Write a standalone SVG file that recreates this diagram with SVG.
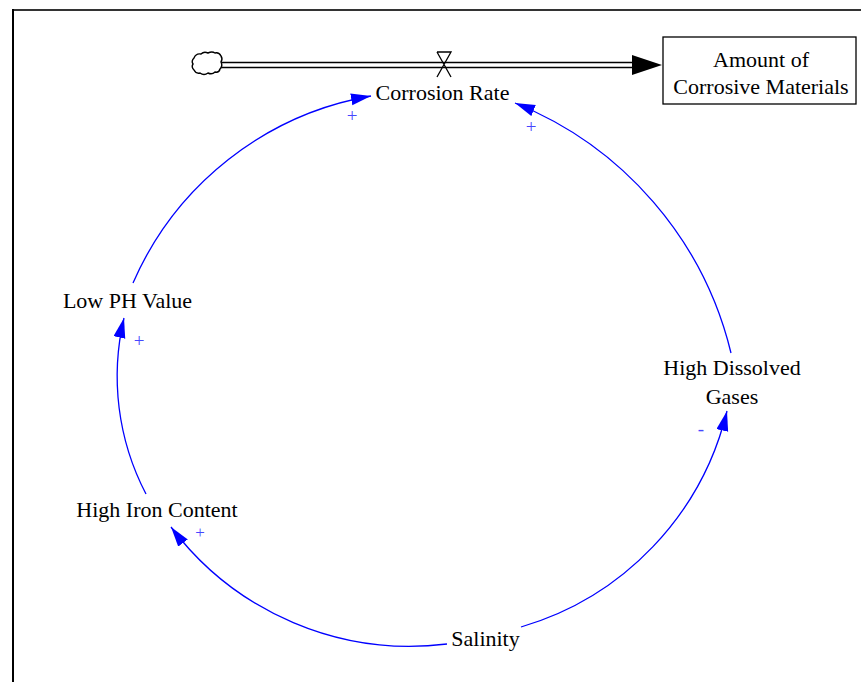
<svg xmlns="http://www.w3.org/2000/svg" width="861" height="682" viewBox="0 0 861 682">
<defs>
<style>
.t{font-family:"Liberation Serif","Times New Roman",serif;font-size:22px;text-anchor:middle;fill:#000}
.link{fill:none;stroke:#0000ff;stroke-width:1.3;marker-end:url(#ah)}
.pol{font-family:"Liberation Serif","Times New Roman",serif;font-size:19px;text-anchor:middle;fill:#4646ff}
</style>
<marker id="ah" markerUnits="userSpaceOnUse" markerWidth="22" markerHeight="14" refX="20" refY="6" orient="auto">
<path d="M0,0 L20,6 L0,12 z" fill="#0000ff"/>
</marker>
</defs>
<rect width="861" height="682" fill="#fff"/>
<g id="frame">
<line x1="13" y1="10" x2="861" y2="10" stroke="#333" stroke-width="2"/>
<line x1="13" y1="9" x2="13" y2="682" stroke="#000" stroke-width="2"/>
</g>
<g id="flow">
<path d="M220,65 L634,65" stroke="#000" stroke-width="6.5" fill="none"/>
<path d="M220,65 L634,65" stroke="#fff" stroke-width="3.5" fill="none"/>
<path d="M632,55 L662,65 L632,75 z" fill="#000"/>
<path d="M437,52 L451,52 L437,77 M451,52 L437,77 M437,52 L451,77" stroke="#000" stroke-width="1.3" fill="none"/>
</g>
<g id="cloud">
<path d="M194,58 q2,-5 7,-4 q3,-3 7,-1 q4,-2 7,0 q4,-1 6,3 q2,3 0,6 q2,4 -1,7 q-1,4 -5,3 q-3,3 -7,1 q-4,3 -8,0 q-4,1 -6,-3 q-3,-3 -1,-6 q-2,-3 1,-6 z" fill="#fff" stroke="#000" stroke-width="1.4"/>
</g>
<g id="stock">
<rect x="663" y="37" width="193" height="67" fill="#fff" stroke="#000" stroke-width="1.3"/>
<text class="t" x="761" y="67">Amount of</text>
<text class="t" x="761" y="94">Corrosive Materials</text>
</g>
<g id="connectors">
<path class="link" d="M133,283 A319,319 0 0 1 371,96"/>
<path class="link" d="M731,353 A361,361 0 0 0 515,103"/>
<path class="link" d="M146,494 A254,254 0 0 1 124,318"/>
<path class="link" d="M447,644 A299,299 0 0 1 171,527"/>
<path class="link" d="M521,627 A298,298 0 0 0 727,411"/>
<text class="pol" x="352" y="122">+</text>
<text class="pol" x="531" y="133">+</text>
<text class="pol" x="139" y="346.5">+</text>
<text class="pol" x="200" y="538" style="font-size:17px">+</text>
<text class="pol" x="701" y="435">-</text>
</g>
<g id="corrosion_rate"><text class="t" x="442.5" y="99.5">Corrosion Rate</text></g>
<g id="low_ph"><text class="t" x="127.5" y="307.5">Low PH Value</text></g>
<g id="dissolved_gases"><text class="t" x="732" y="375">High Dissolved</text><text class="t" x="732" y="404">Gases</text></g>
<g id="iron_content"><text class="t" x="157" y="516.5">High Iron Content</text></g>
<g id="salinity"><text class="t" x="485.5" y="646">Salinity</text></g>
</svg>
